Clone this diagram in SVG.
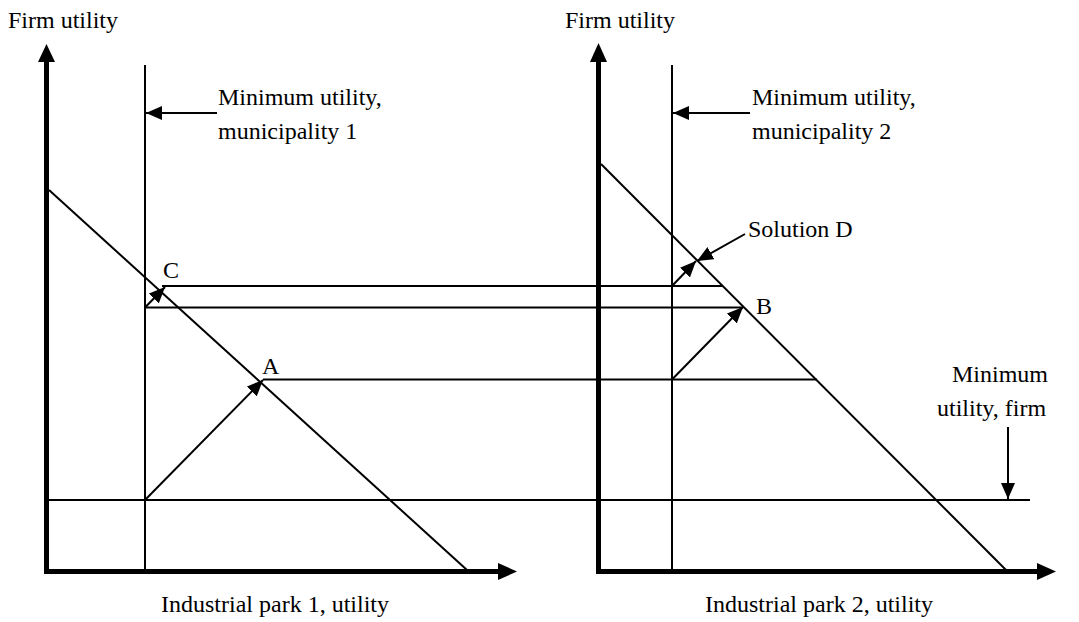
<svg xmlns="http://www.w3.org/2000/svg" width="1079" height="622" viewBox="0 0 1079 622">
<style>
  text { font-family: "Liberation Serif", "Times New Roman", serif; font-size: 24px; fill: #000; }
  .mid { text-anchor: middle; }
  .thin { stroke: #000; stroke-width: 2; fill: none; }
  .axis { stroke: #000; stroke-width: 5; fill: none; }
  .arr { marker-end: url(#ah); }
</style>
<defs>
  <marker id="ah" markerUnits="userSpaceOnUse" markerWidth="18" markerHeight="14" refX="16" refY="7" orient="auto">
    <path d="M0,0 L16,7 L0,14 Z" fill="#000"/>
  </marker>
</defs>
<rect width="1079" height="622" fill="#fff"/>

<g id="axes-left">
  <line class="axis" x1="46.5" y1="573" x2="46.5" y2="60"/>
  <polygon points="38,62 46.5,44 55,62" fill="#000"/>
  <line class="axis" x1="44" y1="571.5" x2="500" y2="571.5"/>
  <polygon points="498,563 517,571.5 498,580" fill="#000"/>
</g>
<g id="axes-right">
  <line class="axis" x1="598.5" y1="573" x2="598.5" y2="60"/>
  <polygon points="590,62 598.5,43 607,62" fill="#000"/>
  <line class="axis" x1="596" y1="571.5" x2="1039" y2="571.5"/>
  <polygon points="1037,563 1056,571.5 1037,580" fill="#000"/>
</g>

<g id="lines">
  <line class="thin" x1="145" y1="65" x2="145" y2="570"/>
  <line class="thin" x1="672" y1="65" x2="672" y2="570"/>
  <line class="thin" x1="49" y1="190" x2="467" y2="570"/>
  <line class="thin" x1="601" y1="164" x2="1006" y2="570"/>
  <line class="thin" x1="49" y1="500" x2="1030" y2="500"/>
  <line class="thin" x1="162" y1="286" x2="723" y2="286"/>
  <line class="thin" x1="145" y1="307.5" x2="743" y2="307.5"/>
  <line class="thin" x1="263" y1="379.5" x2="817" y2="379.5"/>
</g>

<g id="connectors">
  <line class="thin arr" x1="217" y1="113" x2="146" y2="113"/>
  <line class="thin arr" x1="750" y1="113" x2="673" y2="113"/>
  <line class="thin arr" x1="145" y1="500" x2="263" y2="380"/>
  <line class="thin arr" x1="145" y1="307.5" x2="165" y2="287"/>
  <line class="thin arr" x1="672" y1="379.5" x2="743" y2="307"/>
  <line class="thin arr" x1="672" y1="286" x2="696" y2="261"/>
  <line class="thin arr" x1="745" y1="234" x2="697" y2="261"/>
  <line class="thin arr" x1="1008" y1="427" x2="1008" y2="499"/>
</g>

<g id="labels">
  <text x="8" y="28">Firm utility</text>
  <text x="565" y="28">Firm utility</text>
  <text x="218" y="105">Minimum utility,</text>
  <text x="218" y="139">municipality 1</text>
  <text x="752" y="105">Minimum utility,</text>
  <text x="752" y="139">municipality 2</text>
  <text x="748" y="237">Solution D</text>
  <text x="163" y="278">C</text>
  <text x="262" y="374">A</text>
  <text x="756" y="314">B</text>
  <text x="952" y="382">Minimum</text>
  <text x="937" y="416">utility, firm</text>
  <text class="mid" x="275" y="612">Industrial park 1, utility</text>
  <text class="mid" x="819" y="612">Industrial park 2, utility</text>
</g>
</svg>
